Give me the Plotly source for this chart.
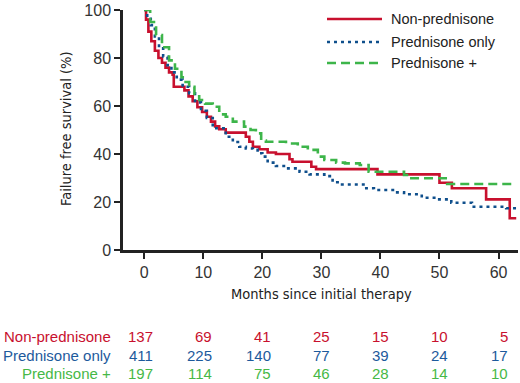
import plotly.graph_objects as go

# ---------------- data ----------------
non_pred_t = [0, 0.3, 0.7, 1.2, 1.8, 2.4, 3.0, 3.6, 4.2, 4.8, 5.0, 6.2, 6.8, 7.5, 8.2, 9.0, 9.8,
              10.6, 11.3, 12.0, 12.7, 13.8, 17.2, 17.8, 18.4, 19.5, 20.9, 22.3, 24.6, 25.1, 28.3,
              29.1, 39.5, 50.0, 52.1, 57.9, 61.9, 63.0]
non_pred_s = [100, 96, 91, 87, 83, 80, 78, 76, 74, 73, 68, 68, 66.5, 64, 62, 59.5, 57.5,
              55.5, 53.5, 51.5, 50.3, 48.9, 47.2, 45.1, 43, 42, 40.6, 40, 37.8, 36.8, 34.7,
              33.7, 31.5, 28, 25.7, 21.1, 13.2, 13.2]

pred_only_t = [0, 0.5, 1.1, 1.8, 2.5, 3.2, 3.95, 4.6, 5.5, 6.5, 7.6, 8.6, 9.6, 10.6, 11.6, 12.2,
               13.8, 15.0, 16.1, 17.2, 18.4, 19.2, 20.0, 20.9, 22.3, 24.0, 26.3, 28.0, 30.5,
               31.9, 33.5, 37.6, 38.9, 42.6, 44.0, 47.0, 49.7, 52.0, 55.5, 61.3, 63.0]
pred_only_s = [100, 97, 93.7, 89, 84, 80.5, 77, 74, 71, 68, 65.3, 61.5, 58, 55, 52, 50.7,
               47.2, 45, 43, 42.3, 41.7, 40.3, 38.9, 36.4, 35, 34, 32.6, 31.5, 30.8,
               28.2, 27.3, 25.7, 25, 24, 23.2, 21.8, 21.1, 19.7, 18, 17.4, 17.4]

pred_plus_t = [0, 1.0, 2.0, 3.0, 4.2, 5.2, 6.3, 7.0, 7.6, 8.5, 9.3, 10.3, 11.6, 12.7, 13.8, 15.0,
               16.9, 18.0, 18.9, 19.8, 20.6, 24.0, 26.0, 27.7, 29.4, 30.5, 32.5, 34.0, 36.5,
               38.0, 44.0, 44.8, 51.3, 63.0]
pred_plus_s = [100, 95, 89.6, 84.5, 79, 75.5, 72, 70, 68, 65, 62.5, 61, 59.7, 56.5, 55.5, 53.5,
               51.4, 50, 48.6, 45.6, 45.1, 44.4, 43, 41.7, 38.9, 37.5, 36.4, 36.1, 35.4,
               32.6, 31.25, 29.9, 27.5, 27.5]

series_names = ["Non-prednisone", "Prednisone only", "Prednisone +"]
risk_times = [0, 10, 20, 30, 40, 50, 60]
risk_non_pred = [137, 69, 41, 25, 15, 10, 5]
risk_pred_only = [411, 225, 140, 77, 39, 24, 17]
risk_pred_plus = [197, 114, 75, 46, 28, 14, 10]

x_ticks = [0, 10, 20, 30, 40, 50, 60]
y_ticks = [0, 20, 40, 60, 80, 100]

# ---------------- styles ----------------
RED = "#c8102e"
BLUE = "#0f4f8c"
GREEN = "#3db54a"
RED_T = "#c8102e"
BLUE_T = "#1d5a9c"
GREEN_T = "#46b846"
DASHES = ["solid", "3px,4px", "9px,5px"]
LINE_COLORS = [RED, BLUE, GREEN]
TEXT_COLORS = [RED_T, BLUE_T, GREEN_T]
FONT = "Liberation Sans, Arial, Helvetica, sans-serif"
NARROW = "Liberation Sans Narrow, DejaVu Sans Condensed, Arial Narrow, Liberation Sans, sans-serif"

W, H = 520, 383
ML, MR, MT, MB = 123, 2, 10, 133
PW, PH = W - ML - MR, H - MT - MB


def px_x(p):
    return (p - ML) / PW


def px_y(p):
    return (MT + PH - p) / PH


fig = go.Figure()
all_t = [non_pred_t, pred_only_t, pred_plus_t]
all_s = [non_pred_s, pred_only_s, pred_plus_s]
for i in range(3):
    fig.add_trace(go.Scatter(
        x=all_t[i], y=all_s[i], mode="lines", name=series_names[i],
        line=dict(color=LINE_COLORS[i], width=2.6, dash=DASHES[i], shape="hv"),
        showlegend=False, hoverinfo="skip"))

# manual legend
leg_rows = [19, 42, 63]
shapes = []
annotations = []
for i in range(3):
    yy = px_y(leg_rows[i])
    shapes.append(dict(type="line", xref="paper", yref="paper",
                       x0=px_x(327), x1=px_x(382), y0=yy, y1=yy,
                       line=dict(color=LINE_COLORS[i], width=2.6, dash=DASHES[i])))
    annotations.append(dict(xref="paper", yref="paper", x=px_x(389), y=yy,
                            xanchor="left", yanchor="middle", showarrow=False,
                            text=series_names[i],
                            font=dict(family=FONT, size=14.5, color="#222")))

# risk table
risk_rows = [risk_non_pred, risk_pred_only, risk_pred_plus]
row_px = [336, 355, 373]
for i in range(3):
    yy = px_y(row_px[i])
    annotations.append(dict(xref="paper", yref="paper", x=px_x(113), y=yy,
                            xanchor="right", yanchor="middle", showarrow=False,
                            text=series_names[i],
                            font=dict(family=FONT, size=15, color=TEXT_COLORS[i])))
    for t, n in zip(risk_times, risk_rows[i]):
        annotations.append(dict(xref="x", yref="paper", x=t, y=yy, xshift=11,
                                xanchor="right", yanchor="middle", showarrow=False,
                                text=str(n),
                                font=dict(family=FONT, size=15, color=TEXT_COLORS[i])))

# axis titles
annotations.append(dict(xref="paper", yref="paper", x=px_x(321), y=px_y(294),
                        xanchor="center", yanchor="middle", showarrow=False,
                        text="Months since initial therapy",
                        font=dict(family=NARROW, size=14.5, color="#222")))
annotations.append(dict(xref="paper", yref="paper", x=px_x(66), y=px_y(129),
                        xanchor="center", yanchor="middle", showarrow=False,
                        textangle=-90, text="Failure free survival (%)",
                        font=dict(family=NARROW, size=14.5, color="#222")))

fig.update_layout(
    width=W, height=H,
    margin=dict(l=ML, r=MR, t=MT, b=MB),
    plot_bgcolor="white", paper_bgcolor="white",
    shapes=shapes, annotations=annotations,
    font=dict(family=FONT, size=15, color="#333"),
)
fig.update_xaxes(range=[-3.6, 63.3], tickvals=x_ticks, ticks="outside", ticklen=6,
                 tickwidth=1.5, tickcolor="#222", showline=True, linecolor="#222",
                 linewidth=2.5, showgrid=False, zeroline=False,
                 tickfont=dict(family=FONT, size=16, color="#333"))
fig.update_yaxes(range=[0, 100], tickvals=y_ticks, ticks="outside", ticklen=6,
                 tickwidth=1.5, tickcolor="#222", showline=True, linecolor="#222",
                 linewidth=2.5, showgrid=False, zeroline=False,
                 tickfont=dict(family=FONT, size=16, color="#333"))

fig.write_html("out.html", config={"displayModeBar": False},
               post_script="document.body.style.margin='0px';document.body.style.overflow='hidden';")
